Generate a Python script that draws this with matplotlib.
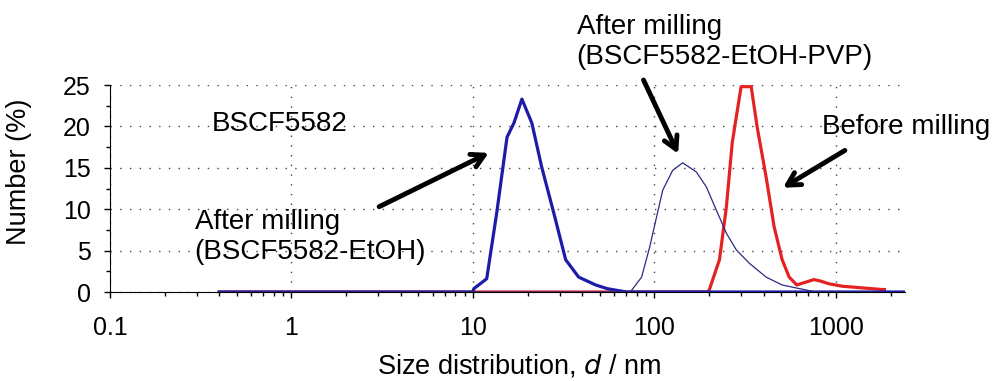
import numpy as np
import matplotlib.pyplot as plt
from matplotlib.ticker import FixedLocator, NullFormatter

plt.rcParams['font.family'] = ['Liberation Sans', 'DejaVu Sans']

# --- Data ---
# After milling (BSCF5582-EtOH), thick blue
etoh_d = [0.4, 10.0, 10.1, 11.9, 13.5, 15.4, 16.8, 18.6, 21.1, 23.9, 27.9, 32.4, 38.2, 47.4, 55, 70, 2400]
etoh_n = [0, 0, 0.4, 1.6, 9.5, 18.7, 20.4, 23.3, 20.4, 15.1, 9.5, 3.9, 1.8, 0.85, 0.4, 0, 0]

# After milling (BSCF5582-EtOH-PVP), thin navy
pvp_d = [0.4, 72, 74.8, 84.9, 94, 111, 126, 143, 170, 193, 219, 249, 282, 332, 412, 505, 600, 775, 1600]
pvp_n = [0, 0, 0.2, 1.8, 5.4, 12.3, 14.7, 15.6, 14.5, 12.7, 9.9, 7.1, 5.1, 3.5, 1.8, 0.85, 0.5, 0, 0]

# Before milling, thick red
raw_d = [0.4, 195, 200, 228, 249, 268, 300, 341, 368, 412, 456, 505, 552, 608, 684, 757, 828, 912, 1080, 1390, 1790, 1850]
raw_n = [0, 0, 0.2, 3.9, 10.3, 18.0, 24.8, 24.8, 19.9, 13.9, 7.9, 3.9, 1.8, 0.85, 1.2, 1.5, 1.3, 1.0, 0.7, 0.5, 0.3, 0.3]

fig = plt.figure(figsize=(9.95, 3.81), dpi=100)
ax = fig.add_axes([110 / 995, 1 - 292 / 381, 795 / 995, 207 / 381])

ax.plot(raw_d, raw_n, color='#e52222', lw=2.3, zorder=3)
ax.plot(etoh_d, etoh_n, color='#1c1ca8', lw=2.3, zorder=4)
ax.plot(pvp_d, pvp_n, color='#2b2b85', lw=0.9, zorder=4)

ax.set_xscale('log')
ax.set_xlim(0.1, 2400)
ax.set_ylim(0, 25)
ax.set_xticks([0.1, 1, 10, 100, 1000])
ax.set_xticklabels(['0.1', '1', '10', '100', '1000'])
ax.xaxis.set_minor_formatter(NullFormatter())
ax.set_yticks([0, 5, 10, 15, 20, 25])
ax.yaxis.set_minor_locator(FixedLocator(np.arange(2.5, 25, 5)))

ax.grid(True, which='major', color='#444444', linestyle=(0, (1, 6)), lw=1.0)
ax.set_axisbelow(True)
for side in ['top', 'right']:
    ax.spines[side].set_visible(False)
ax.tick_params(which='major', direction='out', length=4, labelsize=18, width=1)
ax.tick_params(which='minor', direction='out', length=3, width=1)
ax.tick_params(axis='x', which='major', pad=13)
ax.tick_params(axis='y', which='major', pad=10)

ax.set_xlabel('Size distribution, $\\mathit{d}$ / nm', fontsize=19.5)
ax.set_ylabel('Number (%)', fontsize=19.5)
ax.xaxis.set_label_coords(0.515, -0.29)
ax.yaxis.set_label_coords(-0.098, 0.58)

ax.text(0.363, 20.3, 'BSCF5582', fontsize=20, ha='left', va='center')
ax.text(0.293, 6.6, 'After milling\n(BSCF5582-EtOH)', fontsize=20, ha='left', va='center', linespacing=1.2)
ax.text(37.2, 30.2, 'After milling\n(BSCF5582-EtOH-PVP)', fontsize=20, ha='left', va='center',
        linespacing=1.2, clip_on=False)
ax.text(2427, 19.9, 'Before milling', fontsize=20, ha='center', va='center', clip_on=False)

arrow = dict(arrowstyle='->, head_length=0.9, head_width=0.5', color='black', lw=3.5,
             shrinkA=0, shrinkB=0)
ax.annotate('', xy=(12.2, 16.8), xytext=(3.04, 10.3), arrowprops=arrow)
ax.annotate('', xy=(135, 16.7), xytext=(87, 25.6), arrowprops=arrow, annotation_clip=False)
ax.annotate('', xy=(511, 12.6), xytext=(1119, 17.1), arrowprops=arrow)

fig.savefig('out.png', dpi=100)
